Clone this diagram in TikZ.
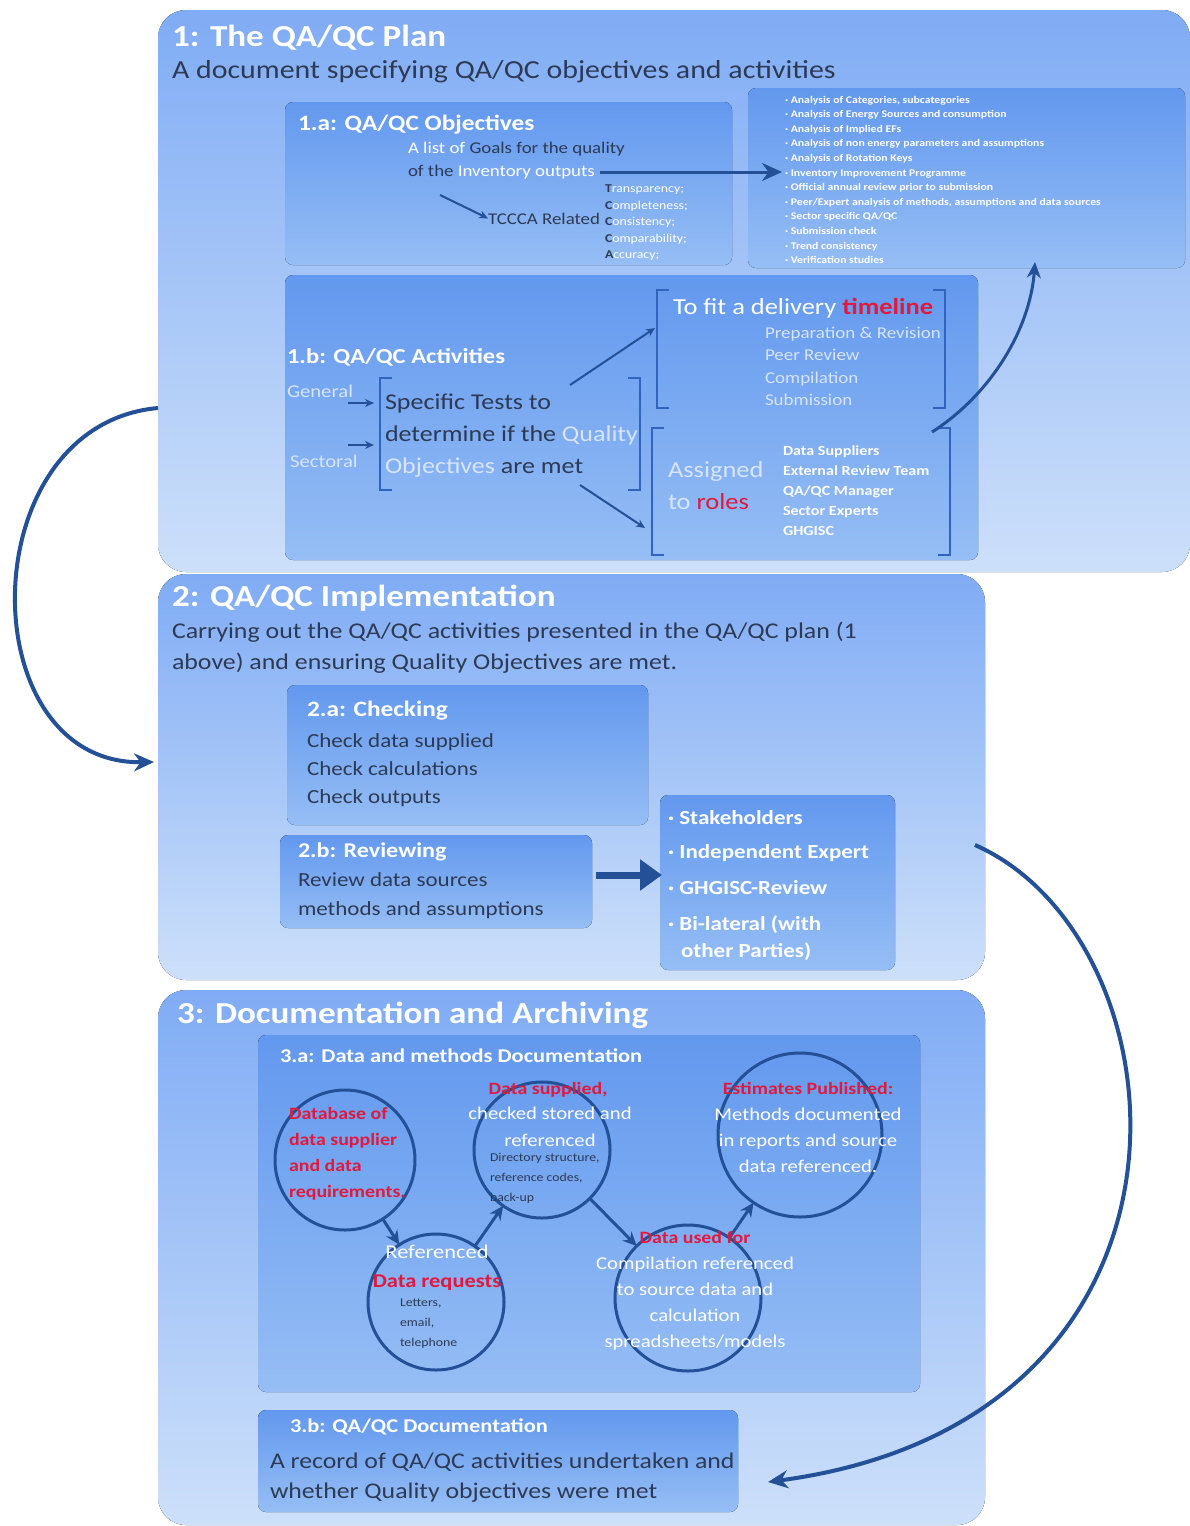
\documentclass[tikz,border=0pt]{standalone}
\usepackage{fontspec}
\setmainfont{Carlito}[FakeStretch=1.15]
\usetikzlibrary{arrows.meta}
\definecolor{secTop}{RGB}{128,172,245}
\definecolor{secBot}{RGB}{205,224,250}
\definecolor{boxTop}{RGB}{98,152,238}
\definecolor{boxBot}{RGB}{150,190,245}
\definecolor{ink}{RGB}{45,58,85}
\definecolor{arr}{RGB}{35,80,150}
\definecolor{hot}{RGB}{225,25,60}
\definecolor{brk}{RGB}{50,100,190}
\definecolor{pale}{RGB}{215,228,252}
\newcommand{\fsz}[1]{\fontsize{#1}{#1}\selectfont}

\begin{document}
\begin{tikzpicture}[x=1pt,y=-1pt,
    every node/.style={inner sep=0pt,outer sep=0pt,anchor=base west},
    sec/.style={top color=secTop,bottom color=secBot,rounded corners=28pt},
    ibox/.style={top color=boxTop,bottom color=boxBot,rounded corners=8pt},
    sectitle/.style={white,font=\bfseries\fsz{30.5}},
    boxtitle/.style={white,font=\bfseries\fsz{20}},
    body/.style={ink,font=\fsz{22.5}},
    brack/.style={brk,line width=1.2pt},
    thin/.style={arr,line width=2pt,-{Stealth[length=9pt,width=8pt]}},
    bigarr/.style={arr,line width=4pt,-{Stealth[length=20pt,width=18pt]}},
    circ/.style={draw=arr,line width=3pt,circle,inner sep=0pt,anchor=center},
    red/.style={hot,font=\bfseries\fsz{17.3}},
    wht/.style={white,font=\fsz{18},anchor=base}]
\useasboundingbox (0,0) rectangle (1190,1526);
\fill[white] (0,0) rectangle (1190,1526);

% ------ les trois sections -----------------------------
\fill[sec] (158,10) rectangle (1190,572);
\fill[sec] (158,574) rectangle (985,980);
\fill[sec] (158,990) rectangle (985,1525);

\node[sectitle] (t1) at (172,46) {1: The QA/QC Plan};
\node[body,font=\fsz{26}] (t1sub) at (172,78) {A document specifying QA/QC objectives and activities};

% 1.a
\fill[ibox] (285,102) rectangle (732,265);
\fill[ibox] (748,88) rectangle (1185,268);
\node[boxtitle,font=\bfseries\fsz{22}] (oa) at (298,130) {1.a: QA/QC Objectives};
\node[ink,font=\fsz{16.4}] (goal1) at (408,153) {\textcolor{white}{A list of} Goals for the quality};
\node[ink,font=\fsz{16.4}] (goal2) at (408,176) {of the \textcolor{white}{Inventory outputs}};
\node[ink,font=\fsz{16.4}] (tccca) at (488,224) {TCCCA Related};
\coordinate (tcfrom) at (440,195);
\draw[thin] (tcfrom) -- (tccca.west);
\foreach \ini/\rest [count=\k] in {T/ransparency;,C/ompleteness;,C/onsistency;,C/omparability;,A/ccuracy;}
  \node[ink,font=\bfseries\fsz{12}] (tc\k) at (605,{176+\k*16.5}) {\ini\textcolor{white}{\mdseries\rest}};
\coordinate (goalend) at (600,172);
\coordinate (lsttip) at (782,172);
\draw[bigarr,line width=3pt] (goalend) -- (lsttip);

\foreach \itm [count=\k] in {{Analysis of Categories, subcategories},
    {Analysis of Energy Sources and consumption},{Analysis of Implied EFs},
    {Analysis of non energy parameters and assumptions},{Analysis of Rotation Keys},
    {Inventory Improvement Programme},{Official annual review prior to submission},
    {Peer/Expert analysis of methods, assumptions and data sources},
    {Sector specific QA/QC},{Submission check},{Trend consistency},{Verification studies}}
  \node[white,font=\bfseries\fsz{10.2}] (lst\k) at (785,{88.4+\k*14.6}) {·\ \itm};

% 1.b
\fill[ibox] (285,275) rectangle (978,560);
\node[boxtitle,font=\bfseries\fsz{21.4}] (ob) at (287,363) {1.b: QA/QC Activities};
\node[pale,font=\fsz{18}] (gen) at (287,397) {General};
\node[pale,font=\fsz{18}] (sect) at (290,467) {Sectoral};
\coordinate (gena) at (348,403); \coordinate (genb) at (374,403);
\coordinate (secta) at (348,445); \coordinate (sectb) at (374,445);
\draw[thin,line width=1.6pt] (gena) -- (genb);
\draw[thin,line width=1.6pt] (secta) -- (sectb);
\draw[brack] (392,378) -- (380,378) -- (380,490) -- (392,490);
\draw[brack] (628,378) -- (640,378) -- (640,490) -- (628,490);
\node[ink,font=\fsz{22.6}] (spec1) at (385,409) {Specific Tests to};
\node[ink,font=\fsz{22.6}] (spec2) at (385,441) {determine if the \textcolor{pale}{Quality}};
\node[ink,font=\fsz{22.6}] (spec3) at (385,473) {\textcolor{pale}{Objectives} are met};

\draw[brack] (669,290) -- (657,290) -- (657,408) -- (669,408);
\draw[brack] (933,290) -- (945,290) -- (945,408) -- (933,408);
\node[white,font=\fsz{23}] (tl) at (673,314) {To fit a delivery \textcolor{hot}{\bfseries timeline}};
\foreach \itm [count=\k] in {Preparation \& Revision,Peer Review,Compilation,Submission}
  \node[pale,font=\fsz{16.5}] (tl\k) at (765,{315.5+\k*22.5}) {\itm};

\draw[brack] (664,428) -- (652,428) -- (652,555) -- (664,555);
\draw[brack] (938,428) -- (950,428) -- (950,555) -- (938,555);
\node[pale,font=\fsz{23}] (asg1) at (668,477) {Assigned};
\node[pale,font=\fsz{23}] (asg2) at (668,509) {to \textcolor{hot}{roles}};
\foreach \itm [count=\k] in {Data Suppliers,External Review Team,QA/QC Manager,Sector Experts,GHGISC}
  \node[white,font=\bfseries\fsz{14}] (rl\k) at (783,{435+\k*20}) {\itm};

\coordinate (ta) at (570,385); \coordinate (tb) at (655,328);
\coordinate (ra) at (580,485); \coordinate (rb) at (645,528);
\draw[thin] (ta) -- (tb);
\draw[thin] (ra) -- (rb);
\coordinate (rolend) at (932,432);
\coordinate (lstbot) at (1035,262);
\draw[bigarr,line width=3pt,-{Stealth[length=16pt,width=14pt]}] (rolend) .. controls (990,395) and (1030,330) .. (lstbot);

% ------ section 2 -----------------------------
\node[sectitle] (t2) at (172,606) {2: QA/QC Implementation};
\node[body] (t2a) at (172,638) {Carrying out the QA/QC activities presented in the QA/QC plan (1};
\node[body] (t2b) at (172,669) {above) and ensuring Quality Objectives are met.};

\fill[ibox] (287,685) rectangle (648,825);
\node[boxtitle,font=\bfseries\fsz{22}] (ca) at (307,716) {2.a: Checking};
\foreach \itm [count=\k] in {Check data supplied,Check calculations,Check outputs}
  \node[ink,font=\fsz{20}] (ck\k) at (307,{719+\k*28}) {\itm};

\fill[ibox] (280,835) rectangle (592,928);
\node[boxtitle,font=\bfseries\fsz{21}] (cb) at (298,857) {2.b: Reviewing};
\node[ink,font=\fsz{20}] (rv1) at (298,886) {Review data sources};
\node[ink,font=\fsz{20}] (rv2) at (298,915) {methods and assumptions};

\fill[ibox] (660,795) rectangle (895,970);
\foreach \itm/\yy [count=\k] in {Stakeholders/824,Independent Expert/858,GHGISC-Review/894,Bi-lateral (with/930}
  \node[white,font=\bfseries\fsz{20}] (sh\k) at (668,\yy) {·\ \itm};
\node[white,font=\bfseries\fsz{20}] (sh5) at (681,957) {other Parties)};
\coordinate (rva) at (596,875); \coordinate (rvb) at (662,875);
\draw[arr,line width=7pt,-{Triangle[length=22pt,width=30pt]}] (rva) -- (rvb);

% ------ section 3 -----------------------------
\node[sectitle] (t3) at (177,1023) {3: Documentation and Archiving};
\fill[ibox] (258,1035) rectangle (920,1392);
\node[boxtitle,font=\bfseries\fsz{19.5}] (da) at (280,1062) {3.a: Data and methods Documentation};

\node[circ,minimum size=140pt] (dbase) at (345,1160) {};
\node[circ,minimum size=136pt] (dreq) at (436,1302) {};
\node[circ,minimum size=136pt] (dsup) at (542,1150) {};
\node[circ,minimum size=146pt] (duse) at (688,1298) {};
\node[circ,minimum size=164pt] (dpub) at (800,1135) {};
\draw[thin,line width=3pt,-{Stealth[length=14pt,width=13pt]}] (dbase) -- (dreq);
\draw[thin,line width=3pt,-{Stealth[length=14pt,width=13pt]}] (dreq) -- (dsup);
\draw[thin,line width=3pt,-{Stealth[length=14pt,width=13pt]}] (dsup) -- (duse);
\draw[thin,line width=3pt,-{Stealth[length=14pt,width=13pt]}] (duse) -- (dpub);

\foreach \itm [count=\k] in {Database of,data supplier,and data,requirements.}
  \node[red] (db\k) at (289,{1093+\k*26}) {\itm};
\node[wht,font=\fsz{19.5}] (rq1) at (437,1258) {Referenced};
\node[red,font=\bfseries\fsz{19.5},anchor=base] (rq2) at (437,1287) {Data requests};
\foreach \itm [count=\k] in {{Letters,},{email,},telephone}
  \node[ink,font=\fsz{12}] (rqs\k) at (400,{1286+\k*20}) {\itm};
\node[red,anchor=base] (sp1) at (548,1094) {Data supplied,};
\node[wht] (sp2) at (550,1119) {checked stored and};
\node[wht] (sp3) at (550,1146) {referenced};
\foreach \itm [count=\k] in {{Directory structure,},{reference codes,},back-up}
  \node[ink,font=\fsz{12}] (sps\k) at (490,{1141+\k*20}) {\itm};
\node[red,anchor=base] (us1) at (695,1243) {Data used for};
\foreach \itm [count=\k] in {Compilation referenced,to source data and,calculation,spreadsheets/models}
  \node[wht] (us\k b) at (695,{1243+\k*26}) {\itm};
\node[red,anchor=base] (pb1) at (808,1094) {Estimates Published:};
\foreach \itm [count=\k] in {Methods documented,in reports and source,data referenced.}
  \node[wht] (pb\k b) at (808,{1094+\k*26}) {\itm};

\fill[ibox] (258,1410) rectangle (738,1512);
\node[boxtitle,font=\bfseries\fsz{19.5}] (db) at (290,1432) {3.b: QA/QC Documentation};
\node[body,font=\fsz{22.4}] (rc1) at (270,1468) {A record of QA/QC activities undertaken and};
\node[body,font=\fsz{22.4}] (rc2) at (270,1498) {whether Quality objectives were met};

% ------ grandes fleches -----------------------------
\coordinate (s1w) at (158,408);
\coordinate (s2w) at (154,762);
\draw[bigarr] (s1w) .. controls (-30,425) and (-30,765) .. (s2w);
\coordinate (s2e) at (975,845);
\coordinate (s3b) at (768,1482);
\draw[bigarr] (s2e) .. controls (1190,940) and (1230,1420) .. (s3b);
\end{tikzpicture}
\end{document}
